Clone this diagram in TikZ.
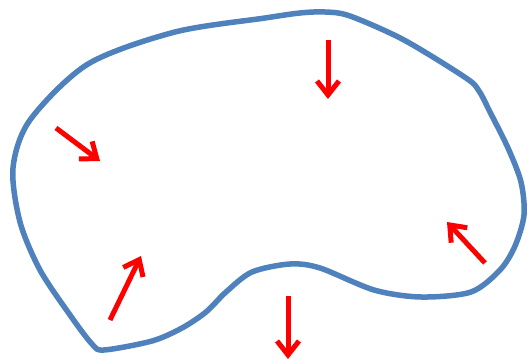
\documentclass[tikz,border=0pt]{standalone}
\usetikzlibrary{arrows.meta}
\definecolor{blobblue}{RGB}{79,129,189}
\tikzset{
  blob/.style={draw=blobblue, line width=5.5pt, line join=round},
  force/.style={draw=red, line width=5pt, -{Straight Barb[length=14pt,width=22pt]}}
}
\begin{document}
\begin{tikzpicture}[x=1pt,y=-1pt]
\useasboundingbox[fill=white] (0,0) rectangle (528,363);
\draw[blob] plot[smooth cycle, tension=0.5] coordinates {
(300,13) (325,12) (350,16) (404,40) (466,78) (479,91) (490,112) (508,148) (521,182) (524,215)
(515,246) (500,270) (471,292) (421,297) (374,290) (320,268) (290,264) (252,272)
(226,292) (206,312) (182,328) (152,341) (104,350) (92,344) (70,315) (40,270) (20,222) (13,168) (30,120)
(88,64) (175,32) (265,18)};
\coordinate (a1s) at (56,128); \coordinate (a1e) at (100,161);
\coordinate (a2s) at (328,40); \coordinate (a2e) at (328,99);
\coordinate (a3s) at (110,320); \coordinate (a3e) at (141,256);
\coordinate (a4s) at (485,263); \coordinate (a4e) at (447,222);
\coordinate (a5s) at (288,296); \coordinate (a5e) at (288,359);
\draw[force] (a1s) -- (a1e);
\draw[force] (a2s) -- (a2e);
\draw[force] (a3s) -- (a3e);
\draw[force] (a4s) -- (a4e);
\draw[force] (a5s) -- (a5e);
\end{tikzpicture}
\end{document}
